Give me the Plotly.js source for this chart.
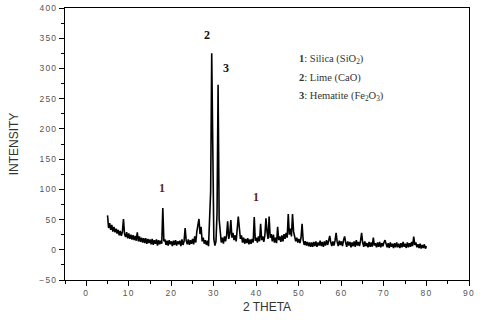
<!DOCTYPE html>
<html>
<head>
<meta charset="utf-8">
<script src="https://cdn.plot.ly/plotly-3.0.1.min.js"></script>
<style>
html,body{margin:0;padding:0;background:#fff;}
#chart{width:489px;height:322px;}
.xtick text,.ytick text{letter-spacing:1.2px;}
</style>
</head>
<body>
<div id="chart"></div>
<script>
// 2-theta scan: start and step (degrees)
var scanStart = 5;
var scanStep = 0.25;
// Intensity per scan step, 5.00 .. 80.00
var intensity = [
  57,36,44,33, 41,30,38,29, 35,27,33,24, 31,23,30,51, 26,21,29,19,
  27,18,25,17, 24,16,23,15, 29,14,22,13, 20,12,19,11, 19,10,18,11,
  17,9,18,8, 16,10,17,7, 16,9,15,10, 69,14,17,8, 15,7,16,9,
  14,6,15,8, 16,7,14,9, 15,6,17,8, 14,36,15,9, 17,8,16,10,
  18,9,22,12, 30,40,51,26, 38,14,20,10, 16,8,15,6, 60,96,325,96,
  18,7,14,60, 273,50,25,12, 20,10,22,14, 24,47,18,26, 49,20,28,16,
  24,14,35,55, 36,18,24,12, 20,10,18,11, 19,9,17,10, 18,12,54,15,
  20,12,22,14, 43,16,22,13, 24,52,30,18, 55,20,26,14, 25,12,20,11,
  38,16,22,13, 24,14,26,18, 28,20,59,25, 35,22,59,30, 22,14,20,12,
  18,11,20,43, 16,8,14,7, 13,6,12,5, 12,5,13,6, 14,5,12,7,
  15,6,13,5, 14,7,16,8, 15,23,12,6, 14,7,15,28, 13,6,15,8,
  14,6,16,22, 12,5,14,7, 13,4,12,6, 14,5,16,7, 13,6,15,28,
  12,5,14,6, 11,4,13,5, 12,5,20,7, 11,4,12,5, 13,4,11,6,
  12,16,10,4, 11,3,12,5, 10,3,11,4, 12,4,10,3, 11,4,13,5,
  10,3,12,4, 11,5,13,6, 22,8,12,4, 9,3,10,2, 8,3,9,2,
  6
];
var twoTheta = intensity.map(function(_, i){ return scanStart + i*scanStep; });

// Peak labels
var peakLabels = ["1","2","3","1"];
var peakX = [17.8, 28.4, 32.9, 39.9];
var peakY = [102, 355, 301, 87];
var peakColors = ["#5a1f1f","#111","#111","#5a1f1f"];

// Phase key
var keyText = [
  "<b>1</b>: Silica (SiO<sub>2</sub>)",
  "<b>2</b>: Lime (CaO)",
  "<b>3</b>: Hematite (Fe<sub>2</sub>O<sub>3</sub>)"
];
var keyY = [314, 284, 253];
var keyX = 49.6;

var annotations = [];
peakLabels.forEach(function(t, i){
  annotations.push({x: peakX[i], y: peakY[i], xref:'x', yref:'y', text:'<b>'+t+'</b>', showarrow:false,
    font:{family:'Liberation Serif, serif', size:12, color:peakColors[i]}});
});
keyText.forEach(function(t, i){
  annotations.push({x: keyX, y: keyY[i], xref:'x', yref:'y', text:t, showarrow:false, xanchor:'left',
    font:{family:'Liberation Serif, serif', size:10.5, color:'#333'}});
});

var trace = {
  x: twoTheta, y: intensity, type:'scatter', mode:'lines',
  line:{color:'#000', width:1.6}, hoverinfo:'none'
};

var axisCommon = {
  showline:true, linecolor:'#000', linewidth:1, mirror:true,
  ticks:'outside', ticklen:5, tickcolor:'#000', tickwidth:1,
  showgrid:false, zeroline:false,
  tickfont:{family:'Liberation Sans, Arial, sans-serif', size:8.5, color:'#555'}
};

var layout = {
  width:489, height:322,
  margin:{l:65, r:20, t:8, b:42},
  paper_bgcolor:'#fff', plot_bgcolor:'#fff',
  showlegend:false,
  xaxis: Object.assign({}, axisCommon, {
    range:[-5, 90], tick0:0, dtick:10,
    minor:{dtick:5, tick0:0, ticks:'outside', ticklen:3, tickcolor:'#000'},
    title:{text:'2 THETA', standoff:5, font:{family:'Liberation Sans, Arial, sans-serif', size:12, color:'#333'}}
  }),
  yaxis: Object.assign({}, axisCommon, {
    range:[-50, 400], tick0:0, dtick:50,
    minor:{dtick:25, tick0:0, ticks:'outside', ticklen:3, tickcolor:'#000'},
    title:{text:'INTENSITY', standoff:18, font:{family:'Liberation Sans, Arial, sans-serif', size:12, color:'#333'}}
  }),
  annotations: annotations
};

Plotly.newPlot('chart', [trace], layout, {displayModeBar:false, staticPlot:true});
</script>
</body>
</html>
